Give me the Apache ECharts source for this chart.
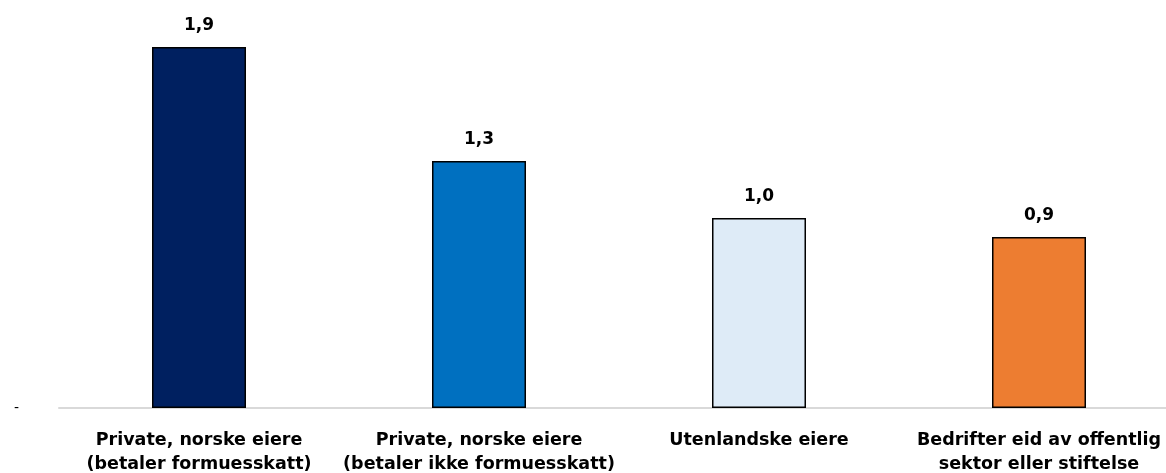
<!DOCTYPE html>
<html>
<head>
<meta charset="utf-8">
<script src="https://cdn.jsdelivr.net/npm/echarts@6/dist/echarts.min.js"></script>
<style>
    html, body { margin: 0; padding: 0; background: #fff; }
    #chart1 { width: 1166px; height: 473px; }
</style>
</head>
<body>
<div id="chart1"></div>
<script>
// kategorier og verdier
var categories = [
    'Private, norske eiere\n(betaler formuesskatt)',
    'Private, norske eiere\n(betaler ikke formuesskatt)',
    'Utenlandske eiere',
    'Bedrifter eid av offentlig\nsektor eller stiftelse'
];
var values = [1.9, 1.3, 1.0, 0.9];
var barColors = ['#002060', '#0070C0', '#DEEBF7', '#ED7D31'];

var myChart1 = echarts.init(document.getElementById('chart1'));

function buildData() {
    var arr = [];
    for (var i = 0; i < values.length; i++) {
        arr.push({
            value: values[i],
            itemStyle: { color: barColors[i] }
        });
    }
    return arr;
}

var font = '"DejaVu Sans", sans-serif';

option = {
    animation: false,
    grid: {
        left: 59,
        width: 1120,
        top: 47,
        height: 361,
        containLabel: false,
        outerBoundsMode: 'none'
    },
    xAxis: {
        type: 'category',
        data: categories,
        axisLine: { show: true, lineStyle: { color: '#D9D9D9', width: 2 } },
        axisTick: { show: false },
        axisLabel: {
            interval: 0,
            margin: 20,
            color: '#000',
            fontFamily: font,
            fontWeight: 'bold',
            fontSize: 17.5,
            lineHeight: 24
        }
    },
    yAxis: {
        type: 'value',
        min: 0,
        max: 1.9,
        interval: 1.9,
        splitLine: { show: false },
        axisLine: { show: false },
        axisTick: { show: false },
        axisLabel: {
            margin: 40,
            color: '#000',
            fontFamily: font,
            fontSize: 14,
            padding: [6, 0, 0, 0],
            formatter: function (v) {
                return v === 0 ? '-' : '';
            }
        }
    },
    series: [{
        type: 'bar',
        barWidth: 94,
        data: buildData(),
        itemStyle: { borderColor: '#000', borderWidth: 1.5 },
        label: {
            show: true,
            position: 'top',
            distance: 13,
            color: '#000',
            fontFamily: font,
            fontWeight: 'bold',
            fontSize: 17,
            formatter: function (p) {
                return p.value.toFixed(1).replace('.', ',');
            }
        }
    }]
};
myChart1.setOption(option);
</script>
</body>
</html>
